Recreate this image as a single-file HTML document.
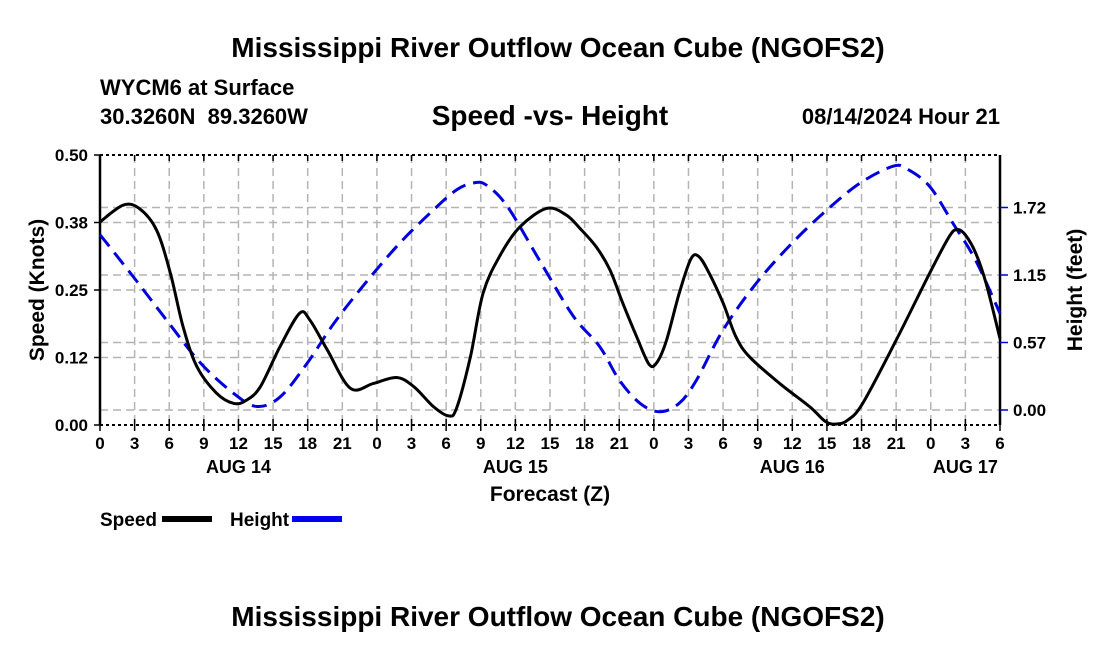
<!DOCTYPE html>
<html><head><meta charset="utf-8"><style>
body{margin:0;background:#fff;}
svg text{font-family:"Liberation Sans",sans-serif;font-weight:bold;}
</style></head><body>
<svg id="c" width="1100" height="650">
<text x="558" y="57" text-anchor="middle" font-size="28">Mississippi River Outflow Ocean Cube (NGOFS2)</text>
<text x="100" y="95" font-size="22">WYCM6 at Surface</text>
<text x="100" y="124" font-size="22" xml:space="preserve">30.3260N  89.3260W</text>
<text x="550" y="125" text-anchor="middle" font-size="28">Speed -vs- Height</text>
<text x="1000" y="124" text-anchor="end" font-size="22">08/14/2024 Hour 21</text>
<g id="grid"></g><g id="axes"></g><g id="series"></g>
<text x="550" y="501" text-anchor="middle" font-size="21">Forecast (Z)</text>
<text transform="translate(44,290) rotate(-90)" text-anchor="middle" font-size="21">Speed (Knots)</text>
<text transform="translate(1082,290) rotate(-90)" text-anchor="middle" font-size="21">Height (feet)</text>
<g>
<text x="100" y="526" font-size="19">Speed</text>
<rect x="162" y="516" width="50" height="6" fill="#000"/>
<text x="230" y="526" font-size="19">Height</text>
<rect x="292" y="516" width="50" height="6" fill="#0000ee"/>
</g>
<text x="558" y="626" text-anchor="middle" font-size="28">Mississippi River Outflow Ocean Cube (NGOFS2)</text>
</svg>
<script>
const speedHours=[0,2,3.4,4.9,6.1,7.2,8.4,10.1,11.6,12.7,13.9,15.6,17.3,18.2,19.7,21.7,23.7,25.7,27.2,28.9,30.2,30.9,32.1,33.2,34.7,36.4,38.7,40.4,41.6,43,44.2,45.3,46.5,47.6,48.3,49.1,50.2,51.2,51.9,52.8,54,55.1,56.3,58.9,61.5,62.9,63.9,64.8,66.1,69,71.9,73.6,74.3,75,75.9,76.8,78];
const speedValues=[0.376,0.407,0.401,0.361,0.281,0.182,0.108,0.059,0.040,0.046,0.071,0.145,0.207,0.194,0.139,0.068,0.077,0.088,0.071,0.034,0.017,0.031,0.126,0.244,0.315,0.367,0.401,0.389,0.364,0.330,0.287,0.226,0.164,0.112,0.117,0.157,0.244,0.307,0.312,0.281,0.226,0.164,0.126,0.077,0.034,0.006,0.002,0.009,0.040,0.157,0.281,0.349,0.362,0.352,0.318,0.262,0.160];
const heightHours=[0,2.9,5.8,8.7,11.6,13.6,15.6,17.9,20.3,23.1,26,28.9,30.9,32.4,33.5,35.3,38.1,41,43.3,45,46.8,48.5,50.2,51.7,54,56.9,60,63,65.9,68.7,69.9,71.9,73.9,75.9,78];
const heightValues=[1.49,1.13,0.76,0.40,0.14,0.03,0.11,0.39,0.74,1.09,1.42,1.70,1.87,1.93,1.91,1.73,1.27,0.80,0.54,0.255,0.057,-0.015,0.057,0.255,0.68,1.08,1.42,1.70,1.93,2.07,2.05,1.90,1.59,1.27,0.82];
const xTickLabels=['0','3','6','9','12','15','18','21','0','3','6','9','12','15','18','21','0','3','6','9','12','15','18','21','0','3','6'];
const dayLabels=['AUG 14','AUG 15','AUG 16','AUG 17'];
const dayHours=[12,36,60,75];
const speedTicks=[0,0.125,0.25,0.375,0.5];
const speedTickLabels=['0.00','0.12','0.25','0.38','0.50'];
const heightTicks=[0,0.5735,1.147,1.7205];
const heightTickLabels=['0.00','0.57','1.15','1.72'];
const X0=100,X1=1000,Y0=425,Y1=155,HMAX=78;
const xs=h=>X0+h*(X1-X0)/HMAX;
const ys=v=>Y0-v*(Y0-Y1)/0.5;
const yh=f=>410-f*67.5/0.5735;
const NS='http://www.w3.org/2000/svg';
function mk(tag,attrs,parent){const e=document.createElementNS(NS,tag);for(const k in attrs)e.setAttribute(k,attrs[k]);parent.appendChild(e);return e;}
const grid=document.getElementById('grid'),axes=document.getElementById('axes'),ser=document.getElementById('series');
for(let i=1;i<xTickLabels.length-1;i++){const x=xs(i*3);const l=mk('line',{x1:x,x2:x,y1:Y1,y2:Y0,stroke:'#b4b4b4','stroke-width':1.5,'stroke-dasharray':'8,5'},grid);

}
speedTicks.slice(1,-1).forEach(v=>{const l=mk('line',{x1:X0,x2:X1,y1:ys(v),y2:ys(v),stroke:'#b4b4b4','stroke-width':1.5,'stroke-dasharray':'8,5'},grid);

});
heightTicks.forEach(v=>{const l=mk('line',{x1:X0,x2:X1,y1:yh(v),y2:yh(v),stroke:'#b4b4b4','stroke-width':1.5,'stroke-dasharray':'8,5'},grid);

});
mk('line',{x1:X0,x2:X1,y1:Y1,y2:Y1,stroke:'#000','stroke-width':2,'stroke-dasharray':'3,3'},axes);
mk('line',{x1:X0,x2:X1,y1:Y0,y2:Y0,stroke:'#000','stroke-width':2,'stroke-dasharray':'3,3'},axes);
const la=mk('line',{x1:X0,x2:X0,y1:Y1,y2:Y0,stroke:'#000','stroke-width':2.5},axes);


const ra=mk('line',{x1:X1,x2:X1,y1:Y1,y2:Y0,stroke:'#000','stroke-width':2.5},axes);


xTickLabels.forEach((t,i)=>{const x=xs(i*3);
mk('line',{x1:x,x2:x,y1:Y0-6,y2:Y0+6,stroke:'#000','stroke-width':1.5},axes);
mk('line',{x1:x,x2:x,y1:Y1,y2:Y1+6,stroke:'#000','stroke-width':1.5},axes);
const tx=mk('text',{x:x,y:Y0+24,'text-anchor':'middle','font-size':17},axes);tx.textContent=t;

});
dayLabels.forEach((d,i)=>{const tx=mk('text',{x:xs(dayHours[i]),y:Y0+48,'text-anchor':'middle','font-size':18},axes);tx.textContent=d;

});
speedTicks.forEach((v,i)=>{const y=ys(v);
mk('line',{x1:X0-6,x2:X0,y1:y,y2:y,stroke:'#000','stroke-width':1.5},axes);
const tx=mk('text',{x:X0-12,y:y+6,'text-anchor':'end','font-size':17},axes);tx.textContent=speedTickLabels[i];

});
heightTicks.forEach((v,i)=>{const y=yh(v);
mk('line',{x1:X1,x2:X1+8,y1:y,y2:y,stroke:'#0000cc','stroke-width':1.5},axes);
const tx=mk('text',{x:X1+13,y:y+6,'font-size':17},axes);tx.textContent=heightTickLabels[i];

});
function smooth(pts){let d='M'+pts[0][0]+','+pts[0][1];
for(let i=0;i<pts.length-1;i++){const p0=pts[Math.max(0,i-1)],p1=pts[i],p2=pts[i+1],p3=pts[Math.min(pts.length-1,i+2)];
const c1=[p1[0]+(p2[0]-p0[0])/6,p1[1]+(p2[1]-p0[1])/6],c2=[p2[0]-(p3[0]-p1[0])/6,p2[1]-(p3[1]-p1[1])/6];
d+=' C'+c1.join(',')+' '+c2.join(',')+' '+p2.join(',');}return d;}
const hp=mk('path',{d:smooth(heightHours.map((h,i)=>[xs(h),yh(heightValues[i])])),fill:'none',stroke:'#0000dd','stroke-width':3,'stroke-dasharray':'15,8'},ser);


const sp=mk('path',{d:smooth(speedHours.map((h,i)=>[xs(h),ys(speedValues[i])])),fill:'none',stroke:'#000','stroke-width':3},ser);


</script>
</body></html>
